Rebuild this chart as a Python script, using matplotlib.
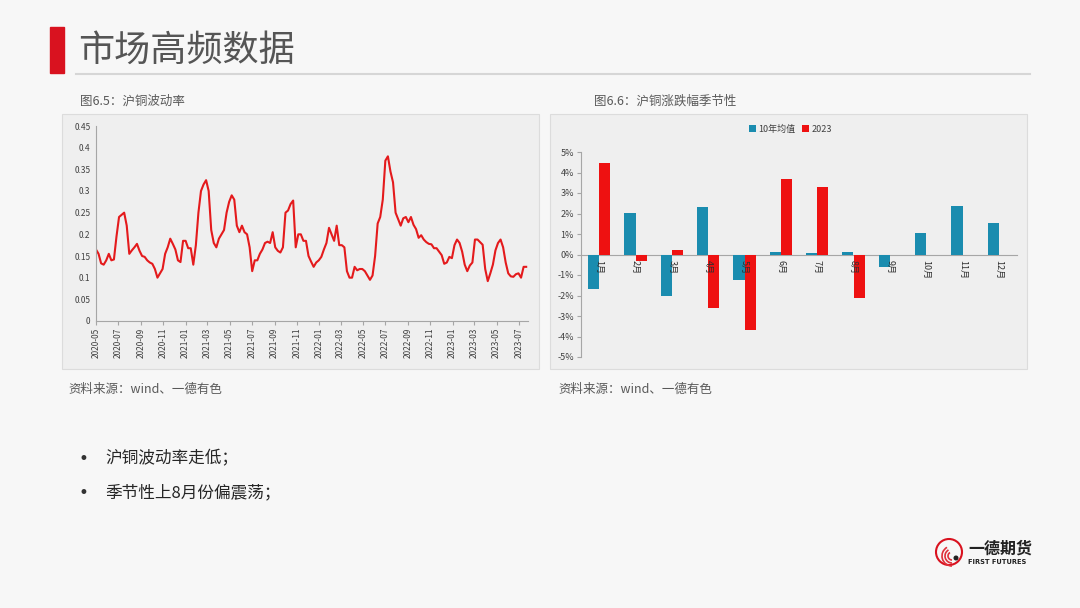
import numpy as np
import pandas as pd
import matplotlib
matplotlib.use("Agg")
import matplotlib.pyplot as plt
import matplotlib.dates as mdates
from matplotlib.patches import Rectangle, Circle, Arc
from matplotlib.ticker import FuncFormatter

plt.rcParams['font.family'] = ['Noto Sans CJK SC', 'DejaVu Sans']

# 沪铜波动率, weekly readings from 2020-05-01
vol = [0.165, 0.155, 0.133, 0.130, 0.140, 0.155, 0.140, 0.142, 0.195, 0.240,
       0.245, 0.250, 0.220, 0.155, 0.163, 0.170, 0.178, 0.162, 0.150, 0.148,
       0.140, 0.135, 0.132, 0.120, 0.100, 0.110, 0.120, 0.155, 0.170, 0.190,
       0.178, 0.165, 0.140, 0.136, 0.185, 0.185, 0.168, 0.168, 0.130, 0.175,
       0.250, 0.300, 0.315, 0.325, 0.300, 0.210, 0.180, 0.170, 0.190, 0.200,
       0.210, 0.250, 0.275, 0.290, 0.280, 0.220, 0.205, 0.220, 0.205, 0.200,
       0.170, 0.115, 0.140, 0.140, 0.155, 0.165, 0.180, 0.183, 0.180, 0.205,
       0.170, 0.162, 0.158, 0.170, 0.250, 0.255, 0.270, 0.278, 0.170, 0.200,
       0.200, 0.185, 0.185, 0.150, 0.137, 0.125, 0.135, 0.140, 0.148, 0.165,
       0.180, 0.215, 0.200, 0.185, 0.220, 0.175, 0.175, 0.170, 0.115, 0.100,
       0.100, 0.125, 0.117, 0.120, 0.120, 0.115, 0.105, 0.095, 0.105, 0.150,
       0.225, 0.240, 0.280, 0.370, 0.380, 0.345, 0.320, 0.250, 0.235, 0.220,
       0.237, 0.240, 0.228, 0.240, 0.222, 0.212, 0.192, 0.198, 0.188, 0.182,
       0.178, 0.177, 0.168, 0.168, 0.160, 0.152, 0.132, 0.135, 0.148, 0.145,
       0.175, 0.188, 0.180, 0.160, 0.130, 0.115, 0.128, 0.135, 0.188, 0.188,
       0.182, 0.176, 0.120, 0.092, 0.110, 0.130, 0.163, 0.180, 0.188, 0.170,
       0.135, 0.110, 0.103, 0.102, 0.108, 0.110, 0.100, 0.125, 0.125]
vol_dates = pd.date_range('2020-05-01', periods=len(vol), freq='7D')

# 沪铜涨跌幅季节性 (%)
months = ['1月', '2月', '3月', '4月', '5月', '6月', '7月', '8月', '9月', '10月', '11月', '12月']
avg10 = [-1.70, 2.01, -2.00, 2.31, -1.25, 0.13, 0.08, 0.10, -0.60, 1.04, 2.35, 1.53]
y2023 = [4.48, -0.31, 0.21, -2.61, -3.69, 3.67, 3.30, -2.13, np.nan, np.nan, np.nan, np.nan]

W, H = 1080, 608
fig = plt.figure(figsize=(W / 100, H / 100), dpi=100)
fig.patch.set_facecolor('#f7f7f7')

bg = fig.add_axes([0, 0, 1, 1], zorder=0)
bg.set_xlim(0, W)
bg.set_ylim(H, 0)
bg.axis('off')

# header
bg.add_patch(Rectangle((50, 27), 14, 46, color='#d9121f'))
bg.plot([76, 1030], [73.5, 73.5], color='#d6d6d6', lw=1.5)
bg.text(78, 51, '市场高频数据', fontsize=26, color='#555555', va='center', ha='left')

# panels
panel_c = '#efefef'
for x0 in (62, 550):
    bg.add_patch(Rectangle((x0, 114), 477, 255, facecolor=panel_c, edgecolor='#dcdcdc', lw=0.8))

bg.text(80, 101, '图6.5：沪铜波动率', fontsize=9, color='#595959', va='center')
bg.text(594, 101, '图6.6：沪铜涨跌幅季节性', fontsize=9, color='#595959', va='center')
bg.text(68, 389, '资料来源：wind、一德有色', fontsize=9, color='#595959', va='center')
bg.text(558, 389, '资料来源：wind、一德有色', fontsize=9, color='#595959', va='center')

# bullets
for yy, s in ((459, '沪铜波动率走低；'), (493, '季节性上8月份偏震荡；')):
    bg.text(83, yy, '•', fontsize=12, color='#333333', va='center', ha='center',
            family=['DejaVu Sans'])
    bg.text(105, yy, s, fontsize=12, color='#262626', va='center')

# logo
bg.add_patch(Circle((949, 552), 13, facecolor='none', edgecolor='#d9121f', lw=1.5))
for r in (4, 7, 10):
    bg.add_patch(Arc((952, 556), 2 * r, 2 * r, theta1=90, theta2=240, color='#e0303a', lw=1.2))
bg.add_patch(Circle((956, 558), 1.8, color='#222222'))
bg.text(968, 549, '一德期货', fontsize=11.5, fontweight='bold', color='#222222', va='center')
bg.text(968, 562, 'FIRST FUTURES', fontsize=4.8, fontweight='bold', color='#222222', va='center',
        family=['DejaVu Sans'])

grey = '#a6a6a6'

# left chart: line
ax1 = fig.add_axes([96 / W, 1 - 321 / H, 432 / W, 195 / H], zorder=2)
ax1.set_facecolor(panel_c)
ax1.plot(vol_dates, vol, color='#e41a1c', lw=1.5)
ax1.set_ylim(0, 0.45)
ax1.set_yticks(np.arange(0, 0.46, 0.05))
ax1.yaxis.set_major_formatter(FuncFormatter(lambda v, p: f'{v:g}' if v else '0'))
ax1.set_xlim(pd.Timestamp('2020-05-01'), pd.Timestamp('2023-07-26'))
ax1.xaxis.set_major_locator(mdates.MonthLocator(bymonth=[1, 3, 5, 7, 9, 11]))
ax1.xaxis.set_major_formatter(mdates.DateFormatter('%Y-%m'))
for s in ('top', 'right'):
    ax1.spines[s].set_visible(False)
for s in ('left', 'bottom'):
    ax1.spines[s].set_color(grey)
    ax1.spines[s].set_linewidth(0.8)
ax1.tick_params(axis='y', labelsize=6, colors='#404040', length=0, pad=4)
ax1.tick_params(axis='x', labelsize=6, colors='#404040', length=3, color=grey,
                rotation=90, pad=2)

# right chart: bars
ax2 = fig.add_axes([581 / W, 1 - 357 / H, 436 / W, 205 / H], zorder=2)
ax2.set_facecolor(panel_c)
x = np.arange(len(months))
bw = 0.31
ax2.bar(x - bw / 2, avg10, bw, color='#1a8caf', label='10年均值', zorder=2)
ax2.bar(x + bw / 2, y2023, bw, color='#ee1111', label='2023', zorder=2)
ax2.set_xlim(-0.5, len(months) - 0.5)
ax2.set_ylim(-5, 5)
ax2.spines['bottom'].set_position(('data', 0))
ax2.set_yticks(np.arange(-5, 6, 1))
ax2.yaxis.set_major_formatter(FuncFormatter(lambda v, p: f'{v:.0f}%'))
ax2.set_xticks(x)
ax2.set_xticklabels(months)
for s in ('top', 'right'):
    ax2.spines[s].set_visible(False)
for s in ('left', 'bottom'):
    ax2.spines[s].set_color(grey)
    ax2.spines[s].set_linewidth(0.8)
ax2.spines['bottom'].set_zorder(1)
ax2.xaxis.set_zorder(5)
ax2.tick_params(axis='y', labelsize=6.5, colors='#404040', length=3, color=grey, pad=2)
ax2.tick_params(axis='x', length=0, pad=4, labelsize=6.5, labelcolor='#303030',
                labelrotation=-90)
for lab in ax2.get_xticklabels():
    lab.set_va('top')
    lab.set_ha('center')
ax2.legend(loc='center', bbox_to_anchor=(0.48, 1.11), ncol=2, frameon=False,
           fontsize=6.5, handlelength=0.8, handleheight=0.8, handletextpad=0.2,
           columnspacing=0.8, labelcolor='#404040')

fig.savefig('out.png', dpi=100, facecolor=fig.get_facecolor())
